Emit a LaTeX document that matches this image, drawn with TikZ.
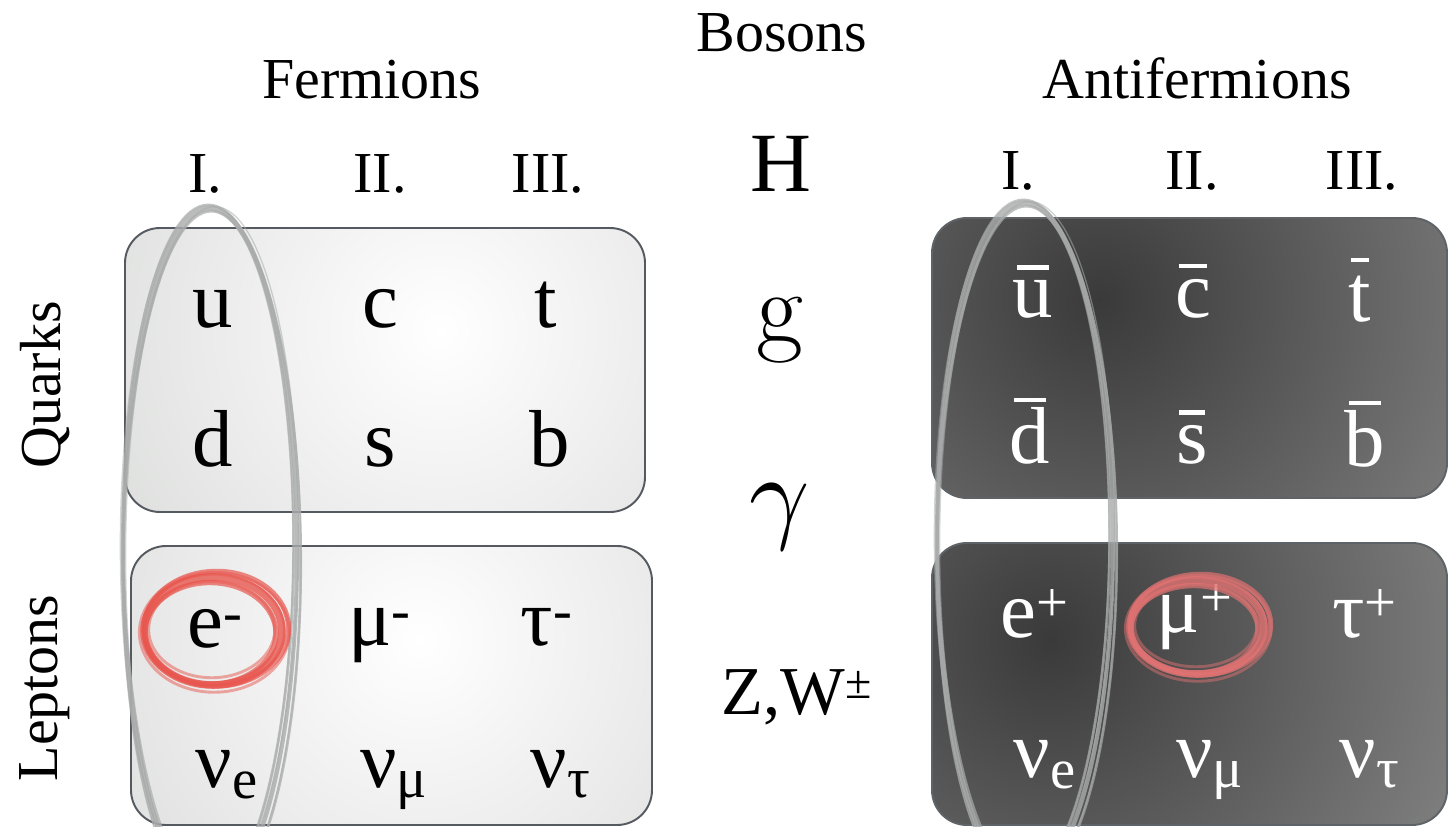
\documentclass[tikz,border=0pt]{standalone}
\usepackage{fontspec}
\setmainfont{Liberation Serif}
\definecolor{paleedge}{HTML}{D2D4D2}
\definecolor{darkcore}{HTML}{3A3A3A}
\definecolor{darkedge}{HTML}{A6A8A6}
\definecolor{frameL}{HTML}{555A60}
\definecolor{frameR}{HTML}{5E6368}
\definecolor{greyink}{HTML}{A9ABAB}
\definecolor{redinkL}{HTML}{E8574F}
\definecolor{redinkR}{HTML}{E07272}
\tikzset{
  headtxt/.style={font=\fontsize{33}{36}\selectfont, anchor=base},
  gentxt/.style={font=\fontsize{33}{36}\selectfont, anchor=base},
  parttxt/.style={font=\fontsize{46}{50}\selectfont, anchor=base},
  antitxt/.style={parttxt, text=white},
  bosontxt/.style={anchor=base},
  boxframe/.style={line width=1.1pt, rounded corners=0.7cm},
}
% hand-drawn looking loop: colour, cx, cy, rx, ry, spread
\newcommand\inkloop[6]{%
  \foreach \dx/\dy/\dr/\a/\w/\o in {0/0/0/0/1.3/0.8,
      1/-0.7/1/0.6/0.9/0.7, -0.8/0.7/-1/-0.5/0.9/0.7,
      0.4/0.4/1.8/0.3/0.5/0.5, -0.4/-0.4/-1.8/-0.2/0.5/0.5,
      0.2/-0.3/0.5/-0.8/0.4/0.55}
  \draw[#1, line width=#6*\w pt, opacity=\o, rotate around={\a:(#2,#3)}]
     ({#2+#6*\dx},{#3+#6*\dy}) ellipse [x radius={#4+#6*\dr}, y radius={#5+#6*\dr}];
}
% letter with an antiparticle bar at a given height
\newcommand\anti[2]{\leavevmode\setbox0\hbox{#1}%
  \rlap{\hbox to \wd0{\hss\raisebox{#2}{\rule{0.8\wd0}{0.05em}}\hss}}\box0}
\begin{document}
\begin{tikzpicture}[x=0.02cm, y=-0.02cm]
\useasboundingbox (0,0) rectangle (1450,827);

% ---- fermion boxes (pale) ----
\begin{scope}
  \clip[rounded corners=0.7cm] (125,228) rectangle (645,512);
  \shade[inner color=white, outer color=paleedge] (-60,-170) rectangle (940,830);
\end{scope}
\draw[boxframe, frameL] (125,228) rectangle (645,512);
\begin{scope}
  \clip[rounded corners=0.7cm] (131,546) rectangle (652,825);
  \shade[inner color=white, outer color=paleedge] (-80,140) rectangle (920,1140);
\end{scope}
\draw[boxframe, frameL] (131,546) rectangle (652,825);

% ---- antifermion boxes (dark) ----
\begin{scope}
  \clip[rounded corners=0.7cm] (932,218) rectangle (1447,498);
  \shade[inner color=darkcore, outer color=darkedge] (400,-400) rectangle (1800,1000);
\end{scope}
\draw[boxframe, frameR] (932,218) rectangle (1447,498);
\begin{scope}
  \clip[rounded corners=0.7cm] (932,543) rectangle (1447,825);
  \shade[inner color=darkcore, outer color=darkedge] (350,-60) rectangle (1750,1340);
\end{scope}
\draw[boxframe, frameR] (932,543) rectangle (1447,825);

% ---- first-generation loops ----
\inkloop{greyink}{210}{552}{87}{344}{1.8}
\inkloop{greyink}{1025}{542}{88}{339}{1.8}

% ---- headings ----
\node[headtxt] (bos) at (782,52) {Bosons};
\node[headtxt] (fer) at (372,99) {Fermions};
\node[headtxt] (afer) at (1197,99) {Antifermions};
\node[headtxt] (g1) at (205,193) {I.};
\node[headtxt] (g2) at (380,193) {II.};
\node[headtxt] (g3) at (548,193) {III.};
\node[headtxt] (ag1) at (1018,190) {I.};
\node[headtxt] (ag2) at (1192,190) {II.};
\node[headtxt] (ag3) at (1362,190) {III.};
\node[gentxt, anchor=center, rotate=90] (qk) at (45,385) {Quarks};
\node[gentxt, anchor=center, rotate=90] (lp) at (45,688) {Leptons};

% ---- bosons ----
\node[bosontxt, font=\fontsize{48}{52}\selectfont] (H) at (781,192) {H};
\node[bosontxt, font=\fontsize{58}{62}\fontfamily{lmr}\selectfont] (gl) at (780,343) {g};
\node[bosontxt, font=\normalsize] (ph) at (780,529) {\scalebox{6}{$\gamma$}};
\node[bosontxt, font=\fontsize{39}{42}\selectfont] (ZW) at (797,714) {Z,W\textsuperscript{±}};

% ---- fermions ----
\node[parttxt] (u) at (213,328) {u};
\node[parttxt] (c) at (380,328) {c};
\node[parttxt] (t) at (546,328) {t};
\node[parttxt] (d) at (213,466) {d};
\node[parttxt] (s) at (380,466) {s};
\node[parttxt] (b) at (550,466) {b};
\node[parttxt] (em) at (215,647) {e\textsuperscript{-}};
\node[parttxt] (mm) at (380,645) {μ\textsuperscript{-}};
\node[parttxt] (tm) at (547,645) {τ\textsuperscript{-}};
\node[parttxt] (ne) at (227,787) {ν\textsubscript{e}};
\node[parttxt] (nm) at (394,787) {ν\textsubscript{μ}};
\node[parttxt] (nt) at (561,787) {ν\textsubscript{τ}};

% ---- antifermions ----
\node[antitxt] (au) at (1033,318) {\anti{u}{0.6em}};
\node[antitxt] (ac) at (1193,318) {\anti{c}{0.62em}};
\node[antitxt] (at) at (1360,322) {\anti{t}{0.74em}};
\node[antitxt] (ad) at (1030,463) {\anti{d}{0.76em}};
\node[antitxt] (as) at (1192,463) {\anti{s}{0.6em}};
\node[antitxt] (ab) at (1365,466) {\anti{b}{0.76em}};
\node[antitxt] (ep) at (1035,637) {e\textsuperscript{+}};
\node[antitxt] (mp) at (1195,632) {μ\textsuperscript{+}};
\node[antitxt] (tp) at (1365,637) {τ\textsuperscript{+}};
\node[antitxt] (ane) at (1045,777) {ν\textsubscript{e}};
\node[antitxt] (anm) at (1210,777) {ν\textsubscript{μ}};
\node[antitxt] (ant) at (1370,777) {ν\textsubscript{τ}};

% ---- highlighted muon / electron ----
\inkloop{redinkL}{213}{631}{69}{54}{3.3}
\inkloop{redinkR}{1197}{627}{67}{47}{3.3}
\end{tikzpicture}
\end{document}
